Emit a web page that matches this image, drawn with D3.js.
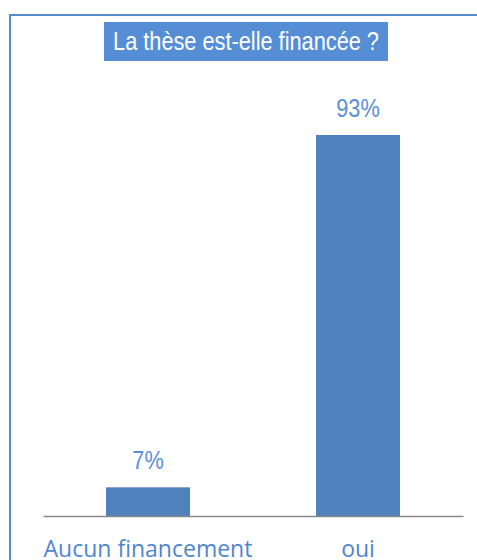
<!DOCTYPE html>
<html>
<head>
<meta charset="utf-8">
<script src="https://cdn.jsdelivr.net/npm/d3@7"></script>
<style>
  body { margin: 0; background: #fff; }
</style>
</head>
<body>
<div class="chart"></div>
<script>
const categories = ["Aucun financement", "oui"]
const values = [7, 93]
const valueLabels = ["7%", "93%"]
const title = "La thèse est-elle financée ?"

const width = 477
const height = 560
const baseY = 516
const narrow = 0.87 // squeeze Liberation Sans to look like Arial Narrow

const svg = d3.select(".chart").append("svg")
    .attr("width", width)
    .attr("height", height)

// frame (runs off the right and bottom edges)
svg.append("rect")
    .attr("x", 10)
    .attr("y", 15)
    .attr("width", 500)
    .attr("height", 600)
    .attr("fill", "none")
    .attr("stroke", "#5a8ccc")
    .attr("stroke-width", 2)

const xScale = d3.scaleBand()
    .domain(categories)
    .range([43, 463])
    .paddingInner(0.6)
    .paddingOuter(0.3)

const yScale = d3.scaleLinear()
    .domain([0, 93])
    .range([baseY, 135])

// title box
const titleG = svg.append("g")
titleG.append("rect")
    .attr("x", 104)
    .attr("y", 22)
    .attr("width", 284)
    .attr("height", 39)
    .attr("fill", "#558ed5")
titleG.append("text")
    .attr("transform", `translate(246, 50) scale(${narrow}, 1)`)
    .attr("text-anchor", "middle")
    .attr("fill", "white")
    .attr("font-family", "Liberation Sans, Arial, sans-serif")
    .attr("font-size", "25px")
    .text(title)

svg.selectAll(".bar")
    .data(values)
    .join("rect")
    .attr("class", "bar")
    .attr("x", (d, i) => xScale(categories[i]))
    .attr("y", d => yScale(d))
    .attr("width", xScale.bandwidth())
    .attr("height", d => baseY - yScale(d))
    .attr("fill", "#4f81bd")

svg.selectAll(".val")
    .data(values)
    .join("text")
    .attr("class", "val")
    .attr("transform", (d, i) =>
        `translate(${xScale(categories[i]) + xScale.bandwidth() / 2}, ${yScale(d) - 18}) scale(${narrow}, 1)`)
    .attr("text-anchor", "middle")
    .attr("fill", "#5b8fd6")
    .attr("font-family", "Liberation Sans, Arial, sans-serif")
    .attr("font-size", "25px")
    .text((d, i) => valueLabels[i])

const xAxis = d3.axisBottom(xScale).tickSize(0).tickPadding(25)

const axisG = svg.append("g")
    .attr("transform", `translate(0, ${baseY})`)
    .call(xAxis)

axisG.select(".domain")
    .attr("stroke", "#888")
    .attr("stroke-width", 1.5)

axisG.selectAll("text")
    .attr("fill", "#4f86cf")
    .attr("font-family", "Open Sans, sans-serif")
    .attr("font-size", "23px")
</script>
</body>
</html>
